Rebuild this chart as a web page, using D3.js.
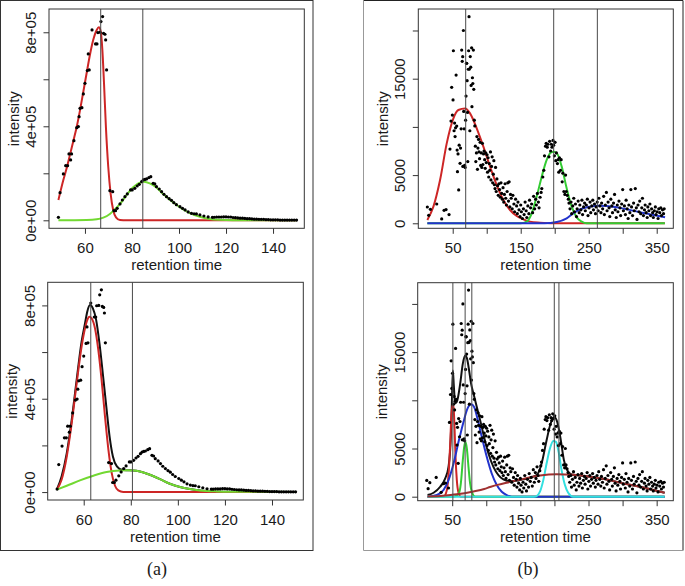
<!DOCTYPE html>
<html><head><meta charset="utf-8">
<script src="https://cdn.jsdelivr.net/npm/d3@7"></script>
<style>
body{margin:0;background:#fff}
svg{display:block}
text{font-family:"Liberation Sans",Arial,Helvetica,sans-serif;fill:#1a1a1a}
</style>
</head><body>
<svg id="c" width="685" height="586"></svg>
<script>
// ---------------- DATA ----------------
// Panel (a): chromatogram points [retention time, intensity]
const aPoints = [[48.7,12800],[49.4,117700],[50.8,197200],[51.8,232600],[52.6,232600],[53.2,282300],[53.9,256700],[54.3,282300],[55.3,339000],[56.5,394300],[57.2,398600],[57.5,441100],[57.9,476600],[58.7,479400],[59.3,537600],[60.0,583000],[61.0,636900],[61.4,707800],[61.8,639700],[63.0,809900],[64.5,750300],[65.1,750300],[65.5,798600],[66.4,800000],[66.8,845400],[67.5,866700],[67.9,795700],[68.5,791500],[68.8,767400],[69.2,639700],[70.6,126200],[71.8,122000],[72.3,41100],[73.0,41100],[73.7,51100],
[74.9,69500],[75.9,86500],[77.0,100700],[78.0,112100],[79.4,129100],[80.1,129100],[81.2,136200],[82.2,146000],[83.1,153200],[84.1,164500],[84.8,171600],[85.5,174000],[86.2,175900],[87.2,181600],[88.0,185800],[89.0,157400],[89.7,154600],[90.4,143300],[91.6,133300],[92.6,122000],[93.6,110600],[94.7,100700],[95.8,92200],[96.8,85100],[97.8,75200],[98.9,66700],[100.4,58200],[101.5,51100],[102.6,44000],[103.9,35500],[105.3,29800],[106.4,28000],[107.4,27000],[108.9,22700],[110.6,18400],[112.4,14200],[114.2,12800],[115,13000],[116,14000],[117,14000],[118,14000],[119,15000],[120,15000],[121,14000],[122,14000],[123,12000],[124,11000],[125,10000],[126,9000],[127,9000],[128,8000],[129,7000],[130,7000],[131,6000],[132,5000],[133,5000],[134,4000],[135,4000],[136,4000],[137,3000],[138,3000],[139,2000],[140,2000],[141,2000],[142,2000],[143,1000],[144,1000],[145,1000],[146,1000],[147,1000],[148,1000],[149,1000],[150,1000]];

// Panel (a) top fits
const a1RedFit = [[48.7,86500],[50.8,171600],[52.2,221000],[53.6,278000],[55.0,335000],[56.5,398000],[57.9,469000],[59.3,547000],[60.7,625500],[62.1,703500],[63.5,767000],[65.0,810000],[65.9,821000],[66.7,803000],[67.4,725000],[68.1,583000],[68.9,398600],[69.9,228000],[70.9,115000],[72.0,44000],[73.2,12800],[74.9,1400],[77.7,0],[150,0]];
const a1GreenFit = [[48.7,0],[60.7,1400],[65.0,4300],[67.8,11300],[70.6,27000],[72.7,46800],[74.9,69500],[77.7,107800],[80.5,140400],[82.7,157400],[85.1,164500],[87.6,157400],[90.4,140000],[93.3,112000],[96.1,88000],[98.9,66000],[101.8,46000],[104.6,31000],[108.9,15000],[113.1,6000],[117.3,2000],[123,0],[150,0]];
const a1Peaks = [66.7, 84.6];

// Panel (a) bottom fits
const a2SumFit = [[48.7,14000],[50.6,67000],[52.8,167000],[54.9,309000],[57.0,480600],[59.1,644600],[60.55,723000],[61.5,773000],[62.7,801400],[63.9,787000],[65.3,737000],[66.7,637000],[68.1,509000],[69.6,366500],[71.0,238000],[72.4,152600],[74.1,110000],[76.2,95500],[78.3,93500],[81.0,92700],[83.9,88400],[88.1,74000],[92.4,55600],[96.6,35700],[100.9,21400],[105.1,12800],[109.4,7100],[116.4,2900],[123.5,1400],[150,0]];
const a2RedFit = [[48.7,12000],[50.6,52800],[52.8,152600],[54.9,295000],[57.0,466000],[59.1,623000],[60.55,701600],[61.5,737000],[62.4,751500],[63.4,744000],[64.8,701600],[66.2,609000],[67.6,480600],[69.05,323700],[70.5,181000],[71.9,81300],[73.3,27000],[74.7,7000],[76.8,0],[150,0]];
const a2GreenFit = [[48.7,11000],[52.8,27000],[58.4,50000],[64.1,70000],[69.7,85600],[75.4,92700],[78.3,93500],[81.0,92700],[83.9,88400],[88.1,74000],[92.4,55600],[96.6,35700],[100.9,21400],[105.1,12800],[109.4,7100],[116.4,2900],[123.5,1400],[150,0]];
const a2Peaks = [63.0, 80.7];

const aXTicks = [60,80,100,120,140];
const aXLabels = ["60","80","100","120","140"];
const aYTicks = [0,200000,400000,600000,800000];
const aYLabels = ["0e+00","","4e+05","","8e+05"];

// Panel (b): chromatogram points [retention time, intensity]
const bPoints = [[12.7,1690],[14.7,830],[17.2,1450],[26.5,2000],[33.8,450],[37.3,1350],[40.2,1420],[44.6,900],
[46,7700],[47.5,10600],[48.5,14100],[49.5,11230],[50.5,12800],[51,17900],[52,9600],[52.8,10400],[53.5,9000],[54.2,9900],[55,15380],[55.9,10090],[56.5,7600],[57,5360],[57.8,7200],[58.8,3460],[59.5,8100],[60.8,6220],[61.5,7800],[62.4,9800],[63.2,17970],[64,16800],[64.7,17280],[64.9,5900],[65.7,20000],[66.2,11600],[66.8,9800],[67.5,6000],[68.3,5800],[69,10700],[69.6,13200],[70.2,16600],[70.6,16590],[71.2,14800],[71.8,11500],[72.2,6400],[72.9,15980],[73.4,17900],[74,21430],[74.6,16000],[75.2,9600],[75.8,17300],[76.5,16200],[77.1,14300],[77.8,18200],[78.3,12100],[79,15100],[79.6,14500],[80.4,17970],[81,13900],[81.8,10700],[82.5,10100],[83.3,8000],[84,6400],[84.9,7300],[85.6,9000],[86.4,5600],[87.1,7800],[88,8700],[88.7,7400],[89.5,6700],[90.3,8400],[91.2,6000],[92,7300],[92.8,5800],[93.6,8300],[94.4,6100],[95.3,7200],[96.1,7500],[97,6600],[97.8,5700],[98.6,7300],[99.4,6300],
[100.5,7100],[101.2,5300],[102,6800],[103,4800],[103.8,6200],[104.5,5500],[105.5,7400],[106.3,4500],[107.1,5900],[108,6900],[108.8,4200],[109.7,5100],[110.5,6500],[111.4,4000],[112.2,3600],[113,5800],[114,3300],[115,4600],[116,3900],[117,2900],[118,4100],[119,3500],[120,2700],[121,4200],[122,3100],[123,2500],[124,3700],[125,2200],[126,3000],[127,4100],[128,2600],[129,1900],[130,3300],[131,4200],[133,4300],
[132,2300],[134,1700],[135,3000],[136,2600],[137.5,1500],[138.5,2900],[140,2000],[141,1200],[142.5,2500],[144,1800],[145,1000],[146,2200],[147.5,1400],[149,700],[150,1900],[151,1200],[152.5,500],[154,1500],[155,900],[156.5,2200],[158,1300],[159,600],[160.5,1800],[162,1000],[163,2400],[164.5,1600],
[166,2000],[167.5,1100],[169,2800],[170.5,1500],[172,2500],[173,1900],[174.5,3100],[176,2200],[177,1600],[178.5,2700],[180,3200],
[181,3600],[182.5,4800],[184,5500],[185,7000],[186.5,8000],[187.5,8300],[189,7900],[190,8200],[191.5,6900],[192.5,8500],[194,7500],[195,8200],[196,7900],[197.5,8600],[198.5,8100],[199.5,7000],[200.5,8400],[201.5,6500],[202.5,7300],[204,6200],[205,6600],[206,5300],[207,6800],[208.5,5500],[209.5,6600],[211,4300],[212,5200],[213.5,3300],[215,3000],[216,5000],[217,3300],[218.5,2900],[220,2500],
[221,2100],[222.5,1500],[224,2200],[225,1000],[226.5,1800],[228,2600],[229,1200],[230.5,2000],[232,700],[233,1500],[234.5,2300],[236,1100],[237,1900],[238.5,1400],[240,2400],[241,900],[242.5,1700],[244,2100],[245,1300],[246.5,1900],[248,2500],[249,800],[250.5,1600],[252,2200],[253,1100],[254.5,1800],[256,2400],[257,1400],[258.5,2000],[260,1000],
[261,1700],[262.5,2200],[264,1300],[265,2600],[266.5,1800],[268,1100],[269,2100],[270.5,1500],[272,2800],[273,900],[274.5,1900],[276,3200],[277,1300],[278.5,2200],[280,1600],[281,700],[282.5,2500],[284,1800],[285,1100],[286.5,2100],[288,3000],[289,1400],[290.5,600],[292,1900],[293,1200],[294.5,2300],[296,1600],[297,800],[298.5,2000],[300,3500],[301,1300],
[302.5,1800],[304,900],[305,2400],[306.5,1500],[308,500],[309,1900],[310.5,1100],[312,3500],[313,1700],[314.5,800],[316,2100],[317,1300],[318.5,3600],[320,1600],[321,400],[322.5,1900],[324,1200],[325,2300],[326.5,1000],[328,1600],[329,2600],[330.5,800],[332,1400],[333,1900],[334.5,1100],[336,600],[337,1700],[338.5,1300],[340,2000],[341,800],[342.5,1500],[344,1100],[345,600],[346.5,1300],[348,1700],[349,900],[350.5,1200],[352,500],[353,1500],[354.5,1100],[356,1600],[357,800],[358.5,1400],[360,1000],[361,1500]];

// Panel (b) top fits
const b1RedFit = [[12.7,350],[21.6,1730],[31.4,4490],[41.2,8290],[51,10890],[58.3,11750],[68.1,11900],[75.5,11400],[85.3,9850],[95.1,7950],[104.9,5880],[114.7,3970],[124.5,2420],[134.3,1380],[144.1,760],[153.9,415],[163.7,175],[178.4,70],[198,0],[362,0]];
const b1GreenFit = [[12.7,0],[150,0],[158.8,175],[166.2,1040],[173.5,2770],[180.9,4840],[188.2,6570],[194.1,7330],[199,7430],[203.9,7190],[210.3,5880],[217.6,3630],[225,1730],[232.4,620],[239.7,175],[247,0],[362,0]];
const b1BlueFit = [[12.7,0],[185,0],[203,140],[217.6,520],[227.5,1040],[237.3,1450],[252,1730],[264,1830],[276.5,1800],[291.2,1660],[305.9,1450],[325.5,1140],[345,860],[362.3,620]];
const b1Peaks = [69.1, 198.5, 262.7];

// Panel (b) bottom fits
const b2SumFit = [[13.9,170],[22.7,410],[32.4,1030],[39.8,1900],[44.6,3100],[48,6200],[49.5,9650],[51,13100],[52.4,11500],[54.4,9700],[56.5,9800],[58.5,10300],[61.7,11700],[65.6,13800],[69,14650],[71.5,14400],[74.4,13300],[77.8,11700],[81.2,10700],[86.1,9300],[91,7930],[96.8,6200],[103.2,4480],[110.5,3100],[117.8,2240],[125.1,1790],[134.9,1600],[144.6,1650],[154.4,1800],[164.1,1980],[173.9,2240],[181.2,3450],[188.5,5860],[194.4,7590],[199.8,8280],[204.1,7760],[209,6030],[213.9,3790],[218.8,2760],[225.1,2300],[237.3,2200],[252,2070],[276.3,1790],[300.7,1380],[325.1,1030],[349.5,620],[361.7,410]];
const b2RedFit = [[13.9,0],[37.3,0],[42.2,700],[45.1,2760],[47.1,5520],[49,8620],[50.5,9480],[52,9310],[53.4,7240],[54.9,4140],[56.8,1720],[59.3,410],[62.7,0],[361.7,0]];
const b2GreenFit = [[13.9,0],[52,0],[59.3,280],[62.7,1380],[65.6,3790],[67.6,5170],[69.5,5690],[71.5,5000],[73.9,3100],[76.3,1380],[79.3,410],[83.7,0],[361.7,0]];
const b2BlueFit = [[13.9,0],[27.6,170],[37.3,690],[44.6,1720],[52,3450],[59.3,5690],[66.6,7760],[72.4,9140],[77.8,9590],[82.2,9310],[87.1,8100],[93.4,6210],[100.7,4140],[108,2410],[115.4,1210],[122.7,520],[130,170],[137.3,0],[361.7,0]];
const b2CyanFit = [[13.9,0],[170,0],[173.9,70],[178.8,520],[183.7,1720],[188.5,3450],[193.4,5000],[198.3,5790],[202.2,5690],[206.1,4660],[210.5,2760],[215.4,1210],[220.2,410],[227.6,0],[361.7,0]];
const b2BrownFit = [[13.9,30],[32.4,80],[48,175],[56.8,250],[81.2,550],[97,800],[105.6,1000],[117.8,1250],[130,1450],[146,1730],[154.4,1850],[166,2050],[178.8,2200],[203.2,2330],[227.6,2275],[252,2070],[276.3,1790],[300.7,1380],[325.1,1030],[349.5,620],[361.7,410]];
const b2Peaks = [51, 69, 78.8, 199.8, 206.6];

const bXTicks = [50,100,150,200,250,300,350];
const bXLabels = ["50","","150","","250","","350"];
const bYTicks = [0,5000,10000,15000,20000];
const bYLabels = ["0","5000","","15000",""];

const xTitle = "retention time";
const yTitle = "intensity";
const captions = ["(a)", "(b)"];

// ---------------- DRAWING ----------------
const svg = d3.select("#c");
const FS = 15;

// outer frames
svg.append("rect").attr("x",0.5).attr("y",0.5).attr("width",312.5).attr("height",550)
  .attr("fill","none").attr("stroke","#333").attr("stroke-width",1);
const rf = {x0:363.5, y0:0.5, x1:683, y1:550.5};
svg.append("line").attr("x1",rf.x0).attr("x2",rf.x1).attr("y1",rf.y0).attr("y2",rf.y0).attr("stroke","#222");
svg.append("line").attr("x1",rf.x1).attr("x2",rf.x1).attr("y1",rf.y0).attr("y2",rf.y1).attr("stroke","#222");
svg.append("line").attr("x1",rf.x0).attr("x2",rf.x0).attr("y1",rf.y0).attr("y2",rf.y1).attr("stroke","#999");
svg.append("line").attr("x1",rf.x0).attr("x2",rf.x1).attr("y1",rf.y1).attr("y2",rf.y1).attr("stroke","#999");

const RED = "#cd2626", LGREEN = "#72d932", GREEN = "#33cc33", BLUE = "#2233cc", CYAN = "#33e0e0", BROWN = "#a03030", BLACK = "#111";

const panels = [
  {id:"a1", box:[49,9,304.3,228.3], xDom:[44.7,153.3], yDom:[-34000,899000],
   xt:aXTicks, xl:aXLabels, yt:aYTicks, yl:aYLabels, points:aPoints, peaks:a1Peaks,
   fits:[{d:a1RedFit,c:RED},{d:a1GreenFit,c:LGREEN}]},
  {id:"a2", box:[47.7,282.3,303.3,500], xDom:[44.7,153.3], yDom:[-34000,899000],
   xt:aXTicks, xl:aXLabels, yt:aYTicks, yl:aYLabels, points:aPoints, peaks:a2Peaks,
   fits:[{d:a2SumFit,c:BLACK},{d:a2RedFit,c:RED},{d:a2GreenFit,c:LGREEN}]},
  {id:"b1", box:[418.3,9,673.3,228.3], xDom:[-0.6,374.4], yDom:[-519,22230],
   xt:bXTicks, xl:bXLabels, yt:bYTicks, yl:bYLabels, points:bPoints, peaks:b1Peaks,
   fits:[{d:b1RedFit,c:RED},{d:b1GreenFit,c:GREEN},{d:b1BlueFit,c:BLUE}]},
  {id:"b2", box:[417.7,282.7,673.3,500.7], xDom:[-0.6,374.4], yDom:[-415,22200],
   xt:bXTicks, xl:bXLabels, yt:bYTicks, yl:bYLabels, points:bPoints, peaks:b2Peaks,
   fits:[{d:b2SumFit,c:BLACK},{d:b2RedFit,c:RED},{d:b2GreenFit,c:GREEN},{d:b2BlueFit,c:BLUE},{d:b2CyanFit,c:CYAN},{d:b2BrownFit,c:BROWN}]}
];

const defs = svg.append("defs");

panels.forEach(p => {
  const [x0,y0,x1,y1] = p.box;
  const x = d3.scaleLinear().domain(p.xDom).range([x0,x1]);
  const y = d3.scaleLinear().domain(p.yDom).range([y1,y0]);
  defs.append("clipPath").attr("id","clip-"+p.id).append("rect")
    .attr("x",x0).attr("y",y0).attr("width",x1-x0).attr("height",y1-y0);
  const g = svg.append("g");
  const plot = g.append("g").attr("clip-path",`url(#clip-${p.id})`);

  const line = d3.line().x(d=>x(d[0])).y(d=>y(d[1])).curve(d3.curveMonotoneX);
  p.fits.forEach(f => {
    plot.append("path").attr("d",line(f.d)).attr("fill","none")
      .attr("stroke",f.c).attr("stroke-width",2).attr("stroke-linejoin","round");
  });
  plot.append("g").selectAll("circle").data(p.points).join("circle")
    .attr("cx",d=>x(d[0])).attr("cy",d=>y(d[1])).attr("r",1.6).attr("fill","#000");
  plot.append("g").selectAll("line").data(p.peaks).join("line")
    .attr("x1",d=>x(d)).attr("x2",d=>x(d)).attr("y1",y0).attr("y2",y1)
    .attr("stroke","#4a4a4a").attr("stroke-width",1);

  // box
  g.append("rect").attr("x",x0).attr("y",y0).attr("width",x1-x0).attr("height",y1-y0)
    .attr("fill","none").attr("stroke","#333").attr("stroke-width",1);

  // x axis
  const xa = g.append("g").attr("transform",`translate(0,${y1})`)
    .call(d3.axisBottom(x).tickValues(p.xt).tickSize(5.5).tickSizeOuter(0)
      .tickFormat((d,i)=>p.xl[i]));
  xa.select(".domain").remove();
  xa.selectAll(".tick line").attr("stroke","#333");
  xa.selectAll(".tick text").attr("y",24.5).attr("dy",0).style("font-size",FS+"px")
    .attr("fill","#1a1a1a").style("font-family",'"Liberation Sans",Arial,sans-serif');

  // y axis
  const ya = g.append("g").attr("transform",`translate(${x0},0)`)
    .call(d3.axisLeft(y).tickValues(p.yt).tickSize(5.5).tickSizeOuter(0)
      .tickFormat((d,i)=>p.yl[i]));
  ya.select(".domain").remove();
  ya.selectAll(".tick line").attr("stroke","#333");
  ya.selectAll(".tick text").attr("x",0).attr("y",-13).attr("dy",0)
    .attr("transform","rotate(-90)").attr("text-anchor","middle")
    .style("font-size",FS+"px").attr("fill","#1a1a1a")
    .style("font-family",'"Liberation Sans",Arial,sans-serif');

  // titles
  g.append("text").attr("x",(x0+x1)/2).attr("y",y1+41.5).attr("text-anchor","middle")
    .style("font-size",FS+"px").text(xTitle);
  g.append("text").attr("transform",`translate(${x0-30.5},${(y0+y1)/2}) rotate(-90)`)
    .attr("text-anchor","middle").style("font-size",FS+"px").text(yTitle);
});

// captions
const capX = [157, 528];
captions.forEach((c,i)=>{
  svg.append("text").attr("x",capX[i]).attr("y",574.5).attr("text-anchor","middle")
    .style("font-family",'"Liberation Serif","Times New Roman",serif').style("font-size","18px")
    .text(c);
});
</script>
</body></html>
